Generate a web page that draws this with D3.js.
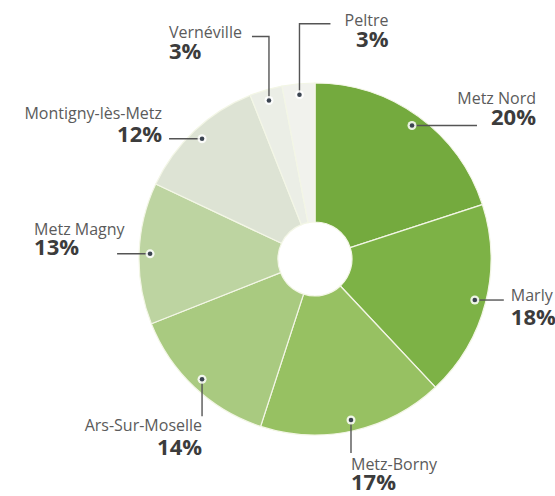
<!DOCTYPE html>
<html>
<head>
<meta charset="utf-8">
<script src="https://cdn.jsdelivr.net/npm/d3@7"></script>
<style>
  html, body { margin: 0; padding: 0; background: #fff; }
  .name { font-family: "Open Sans", sans-serif; font-size: 16px; fill: #5b5b5b; }
  .pct { font-family: "Open Sans", sans-serif; font-size: 22px; font-weight: 700; fill: #3c3c3c; }
</style>
</head>
<body>
<div id="chart"></div>
<script>
// data
const communes = ["Metz Nord", "Marly", "Metz-Borny", "Ars-Sur-Moselle", "Metz Magny", "Montigny-lès-Metz", "Vernéville", "Peltre"];
const shares = [20, 18, 17, 14, 13, 12, 3, 3];

// palette, same order as communes
const palette = ["#74aa3e", "#7db246", "#97c162", "#a9ca80", "#bdd4a1", "#dde3d4", "#ebeee6", "#f1f2ed"];

// label layout, offsets from the dot on each slice
// leader: polyline points, tx: text x, ny/py: baselines of name / percent
const labelLayout = [
    {leader: [[0, 0], [65, 0]], anchor: "end", tx: 124, ny: -22, py: -1},
    {leader: [[0, 0], [29, 0]], anchor: "start", tx: 36, ny: 1, py: 25},
    {leader: [[0, 0], [0, 33]], anchor: "start", tx: 0, ny: 50, py: 70},
    {leader: [[0, 0], [0, 37]], anchor: "end", tx: 0, ny: 52, py: 76},
    {leader: [[0, 0], [-33, 0]], anchor: "start", tx: -116, ny: -19, py: 1},
    {leader: [[0, 0], [-33, 0]], anchor: "end", tx: -40, ny: -20, py: 3},
    {leader: [[0, 0], [0, -64], [-17, -64]], anchor: "start", tx: -100, ny: -63, py: -42},
    {leader: [[0, 0], [0, -71], [31, -71]], anchor: "end", tx: 89, ny: -69, py: -48}
];

const width = 555, height = 496;
const cx = 315, cy = 259;
const outerR = 176, innerR = 37, dotR = 165;

const svg = d3.select("#chart").append("svg")
    .attr("width", width)
    .attr("height", height);

const g = svg.append("g")
    .attr("transform", "translate(" + cx + "," + cy + ")");

const color = d3.scaleOrdinal().domain(communes).range(palette);

const pie = d3.pie().sort(null).value((d, i) => shares[i]);
const arcs = pie(communes);

const arc = d3.arc().innerRadius(innerR).outerRadius(outerR);

g.selectAll("path.slice")
    .data(arcs)
    .join("path")
    .attr("class", "slice")
    .attr("d", arc)
    .attr("fill", d => color(d.data))
    .attr("stroke", "#f3f6e6")
    .attr("stroke-width", 1.2);

// dot position on each slice
function dotPos(d) {
    const a = (d.startAngle + d.endAngle) / 2;
    return [dotR * Math.sin(a), -dotR * Math.cos(a)];
}

const labels = g.selectAll("g.label")
    .data(arcs)
    .join("g")
    .attr("class", "label")
    .attr("transform", d => "translate(" + dotPos(d) + ")");

labels.append("path")
    .attr("d", (d, i) => d3.line()(labelLayout[i].leader))
    .attr("fill", "none")
    .attr("stroke", "#555")
    .attr("stroke-width", 1.4);

labels.append("circle")
    .attr("r", 4.5)
    .attr("fill", "#fff")
    .attr("fill-opacity", 0.85);

labels.append("circle")
    .attr("r", 2.3)
    .attr("fill", "#3b4450");

labels.append("text")
    .attr("class", "name")
    .attr("text-anchor", (d, i) => labelLayout[i].anchor)
    .attr("x", (d, i) => labelLayout[i].tx)
    .attr("y", (d, i) => labelLayout[i].ny)
    .text(d => d.data);

labels.append("text")
    .attr("class", "pct")
    .attr("text-anchor", (d, i) => labelLayout[i].anchor)
    .attr("x", (d, i) => labelLayout[i].tx)
    .attr("y", (d, i) => labelLayout[i].py)
    .text(d => d.value + "%");
</script>
</body>
</html>
